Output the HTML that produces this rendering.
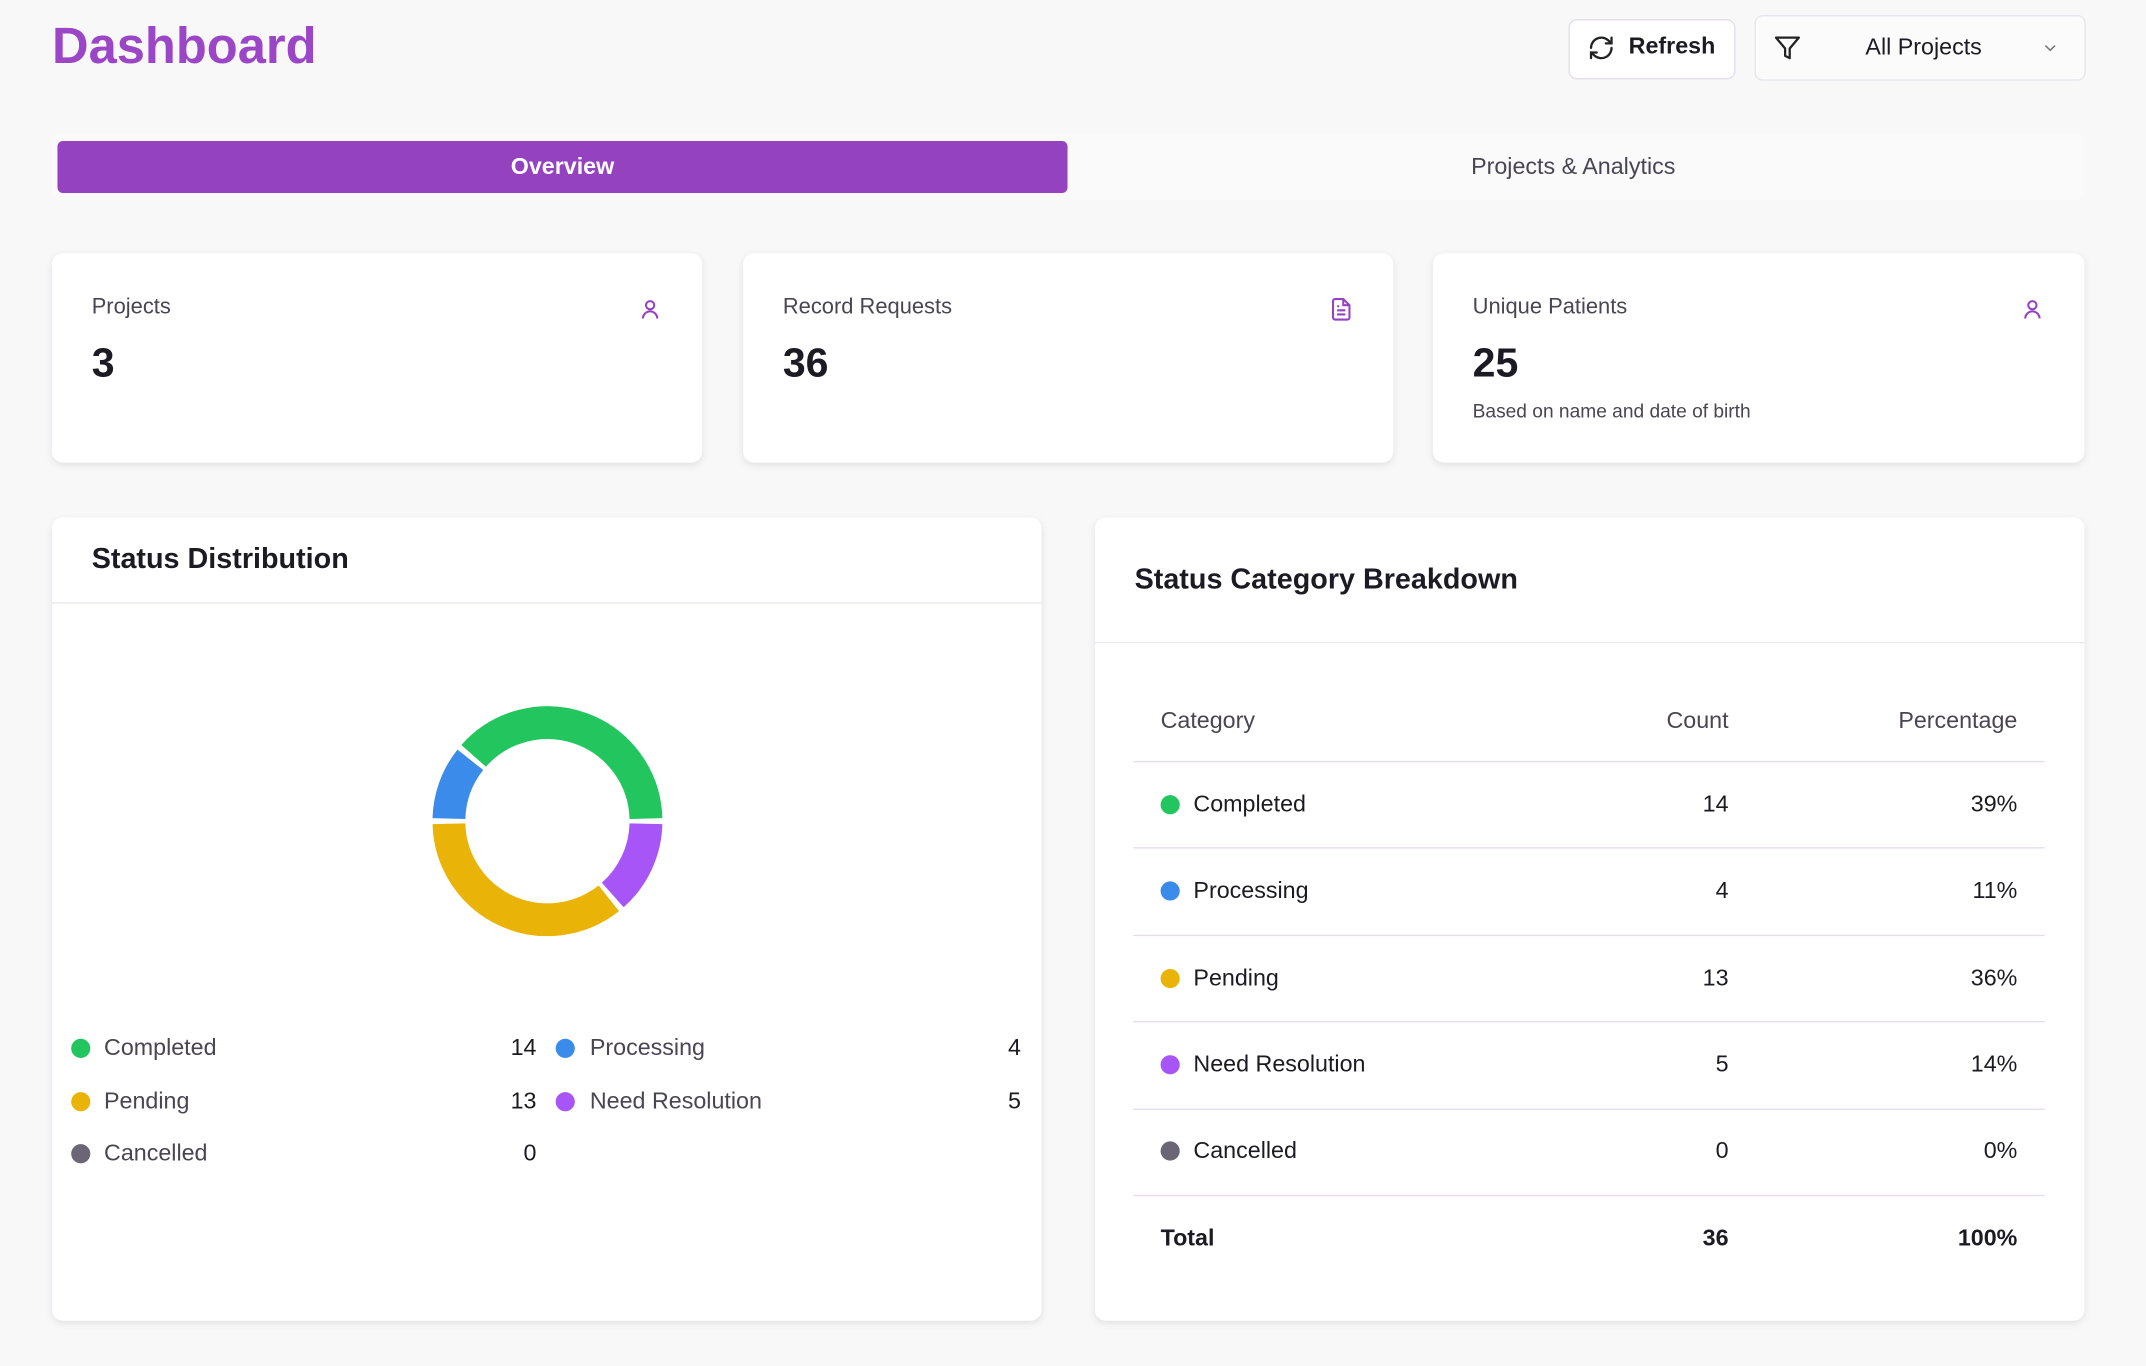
<!DOCTYPE html>
<html><head><meta charset="utf-8"><style>
html,body{margin:0;padding:0;width:2146px;height:1365px;overflow:hidden;background:#f8f8f9;}
#s{position:absolute;left:0;top:0;width:1568px;height:998px;transform:scale(1.36862);transform-origin:0 0;font-family:"Liberation Sans",sans-serif;color:#1c1a22;}
.a{position:absolute;}
.card{position:absolute;background:#fff;border-radius:8px;box-shadow:0 2px 6px rgba(0,0,0,0.09);}
.lbl{font-size:16px;color:#4a4552;}
.big{font-size:30px;font-weight:bold;color:#1c1a22;}
.dot{position:absolute;width:14px;height:14px;border-radius:50%;}
.t{font-size:17px;}
.hr{position:absolute;left:828px;width:666px;height:1px;background:#e6dcee;}
</style></head><body><div id="s">
<div class="a" style="left:38px;top:13px;font-size:37px;font-weight:bold;color:#9a46c6;">Dashboard</div>
<div class="a" style="left:1146px;top:14px;width:120px;height:42px;border:1px solid #e2dde8;border-radius:6px;background:#fff;"></div>
<svg class="a" style="left:1160px;top:25px" width="20" height="20" viewBox="0 0 24 24" fill="none" stroke="#222" stroke-width="2" stroke-linecap="round"><path d="M3 12a9 9 0 0 1 15-6.7L21 8M21 3v5h-5M21 12a9 9 0 0 1-15 6.7L3 16M3 21v-5h5"/></svg>
<div class="a" style="left:1190px;top:24px;font-size:17px;font-weight:bold;color:#1c1a22;">Refresh</div>
<div class="a" style="left:1282px;top:11px;width:240px;height:46px;border:1px solid #e8e4ec;border-radius:6px;background:#fbfbfc;"></div>
<svg class="a" style="left:1296px;top:25px" width="20" height="20" viewBox="0 0 24 24" fill="none" stroke="#222" stroke-width="2" stroke-linejoin="round"><path d="M22 3H2l8 9.5V19l4 2v-8.5z"/></svg>
<div class="a" style="left:1363px;top:25px;font-size:17px;color:#1c1a22;">All Projects</div>
<svg class="a" style="left:1491px;top:28px" width="14" height="14" viewBox="0 0 24 24" fill="none" stroke="#777" stroke-width="2"><path d="M6 9l6 6 6-6"/></svg>
<div class="a" style="left:38px;top:97px;width:1485px;height:49px;background:#fafafb;border-radius:6px;"></div>
<div class="a" style="left:42px;top:103px;width:738px;height:38px;background:#9442c0;border-radius:4px;color:#fff;font-size:17px;text-align:center;line-height:38px;font-weight:bold;">Overview</div>
<div class="a" style="left:780px;top:103px;width:739px;height:38px;color:#4a4552;font-size:17px;text-align:center;line-height:38px;">Projects &amp; Analytics</div>

<div class="card" style="left:38px;top:185px;width:475px;height:153px;"></div>
<div class="card" style="left:543px;top:185px;width:475px;height:153px;"></div>
<div class="card" style="left:1047px;top:185px;width:476px;height:153px;"></div>
<div class="a lbl" style="left:67px;top:216px;">Projects</div>
<div class="a big" style="left:67px;top:249px;">3</div>
<div class="a lbl" style="left:572px;top:216px;">Record Requests</div>
<div class="a big" style="left:572px;top:249px;">36</div>
<div class="a lbl" style="left:1076px;top:216px;">Unique Patients</div>
<div class="a big" style="left:1076px;top:249px;">25</div>
<div class="a" style="left:1076px;top:292px;font-size:14px;color:#4a4552;">Based on name and date of birth</div>
<svg class="a" style="left:466px;top:217px" width="18" height="18" viewBox="0 0 24 24" fill="none" stroke="#9442c0" stroke-width="2"><circle cx="12" cy="8" r="4"/><path d="M5 21a7 7 0 0 1 14 0"/></svg>
<svg class="a" style="left:1476px;top:217px" width="18" height="18" viewBox="0 0 24 24" fill="none" stroke="#9442c0" stroke-width="2"><circle cx="12" cy="8" r="4"/><path d="M5 21a7 7 0 0 1 14 0"/></svg>
<svg class="a" style="left:971px;top:217px" width="18" height="18" viewBox="0 0 24 24" fill="none" stroke="#9442c0" stroke-width="2"><path d="M14 2H6a2 2 0 0 0-2 2v16a2 2 0 0 0 2 2h12a2 2 0 0 0 2-2V8z"/><path d="M14 2v6h6M8 13h8M8 17h8M8 9h2"/></svg>

<div class="card" style="left:38px;top:378px;width:723px;height:587px;"></div>
<div class="a" style="left:67px;top:397px;font-size:21px;font-weight:bold;">Status Distribution</div>
<div class="a" style="left:38px;top:440px;width:723px;height:1px;background:#ece8f0;"></div>
<svg class="a" style="left:0;top:0" width="800" height="800" fill="none" stroke-width="24">
<path d="M471.98 598.12A72 72 0 0 0 346.07 552.29" stroke="#22c55e"/>
<path d="M343.65 555.18A72 72 0 0 0 328.02 598.12" stroke="#3b8beb"/>
<path d="M328.02 601.88A72 72 0 0 0 444.82 656.35" stroke="#eab308"/>
<path d="M447.71 653.93A72 72 0 0 0 471.98 601.88" stroke="#a855f7"/>
</svg>
<div class="dot" style="left:52px;top:759px;background:#22c55e"></div><div class="a t" style="left:76px;top:756px;color:#4a4552">Completed</div><div class="a t" style="left:352px;width:40px;text-align:right;top:756px">14</div>
<div class="dot" style="left:406px;top:759px;background:#3b8beb"></div><div class="a t" style="left:431px;top:756px;color:#4a4552">Processing</div><div class="a t" style="left:706px;width:40px;text-align:right;top:756px">4</div>
<div class="dot" style="left:52px;top:798px;background:#eab308"></div><div class="a t" style="left:76px;top:795px;color:#4a4552">Pending</div><div class="a t" style="left:352px;width:40px;text-align:right;top:795px">13</div>
<div class="dot" style="left:406px;top:798px;background:#a855f7"></div><div class="a t" style="left:431px;top:795px;color:#4a4552">Need Resolution</div><div class="a t" style="left:706px;width:40px;text-align:right;top:795px">5</div>
<div class="dot" style="left:52px;top:836px;background:#6b6575"></div><div class="a t" style="left:76px;top:833px;color:#4a4552">Cancelled</div><div class="a t" style="left:352px;width:40px;text-align:right;top:833px">0</div>

<div class="card" style="left:800px;top:378px;width:723px;height:587px;"></div>
<div class="a" style="left:829px;top:412px;font-size:21px;font-weight:bold;">Status Category Breakdown</div>
<div class="a" style="left:800px;top:469px;width:723px;height:1px;background:#ece8f0;"></div>
<div class="a t" style="left:848px;top:517px;color:#4a4552">Category</div>
<div class="a t" style="left:1163px;width:100px;text-align:right;top:517px;color:#4a4552">Count</div>
<div class="a t" style="left:1334px;width:140px;text-align:right;top:517px;color:#4a4552">Percentage</div>
<div class="hr" style="top:556px"></div><div class="hr" style="top:619px"></div><div class="hr" style="top:683px"></div><div class="hr" style="top:746px"></div><div class="hr" style="top:810px"></div><div class="hr" style="top:873px"></div>
<div class="dot" style="left:848px;top:581px;background:#22c55e"></div><div class="a t" style="left:872px;top:578px">Completed</div><div class="a t" style="left:1163px;width:100px;text-align:right;top:578px">14</div><div class="a t" style="left:1334px;width:140px;text-align:right;top:578px">39%</div>
<div class="dot" style="left:848px;top:644px;background:#3b8beb"></div><div class="a t" style="left:872px;top:641px">Processing</div><div class="a t" style="left:1163px;width:100px;text-align:right;top:641px">4</div><div class="a t" style="left:1334px;width:140px;text-align:right;top:641px">11%</div>
<div class="dot" style="left:848px;top:708px;background:#eab308"></div><div class="a t" style="left:872px;top:705px">Pending</div><div class="a t" style="left:1163px;width:100px;text-align:right;top:705px">13</div><div class="a t" style="left:1334px;width:140px;text-align:right;top:705px">36%</div>
<div class="dot" style="left:848px;top:771px;background:#a855f7"></div><div class="a t" style="left:872px;top:768px">Need Resolution</div><div class="a t" style="left:1163px;width:100px;text-align:right;top:768px">5</div><div class="a t" style="left:1334px;width:140px;text-align:right;top:768px">14%</div>
<div class="dot" style="left:848px;top:834px;background:#6b6575"></div><div class="a t" style="left:872px;top:831px">Cancelled</div><div class="a t" style="left:1163px;width:100px;text-align:right;top:831px">0</div><div class="a t" style="left:1334px;width:140px;text-align:right;top:831px">0%</div>
<div class="a t" style="left:848px;top:895px;font-weight:bold">Total</div><div class="a t" style="left:1163px;width:100px;text-align:right;top:895px;font-weight:bold">36</div><div class="a t" style="left:1334px;width:140px;text-align:right;top:895px;font-weight:bold">100%</div>
</div></body></html>
